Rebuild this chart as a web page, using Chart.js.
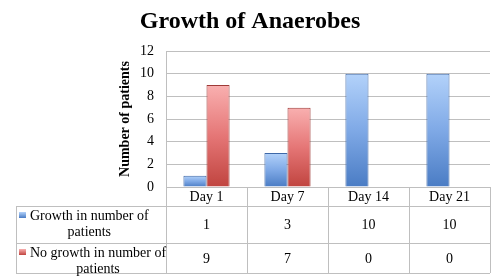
<!DOCTYPE html>
<html>
<head>
<meta charset="utf-8">
<script src="https://cdn.jsdelivr.net/npm/chart.js@4"></script>
<style>
  html, body { margin: 0; padding: 0; background: #fff; }
  #wrap { width: 500px; height: 280px; }
</style>
</head>
<body>
<div id="wrap"><canvas id="chart"></canvas></div>
<script>
const categories = ['Day 1', 'Day 7', 'Day 14', 'Day 21'];
const growth = [1, 3, 10, 10];
const noGrowth = [9, 7, 0, 0];
const seriesNames = ['Growth in number of patients', 'No growth in number of patients'];
const yTicks = [0, 2, 4, 6, 8, 10, 12];

const serif = '"Liberation Serif", "DejaVu Serif", serif';
const gridGrey = '#bfbfbf';

const blue = { top: '#b3d2fa', mid: '#7fa9e6', bottom: '#4a7cc4', edge: '#3e68a8' };
const red = { top: '#f9b0b0', mid: '#e57676', bottom: '#c0443f', edge: '#9e3a37' };

// gradient for each bar, light on top, darker at the base
function barFill(pal) {
  return (ctx) => {
    const chart = ctx.chart;
    const area = chart.chartArea;
    if (!area || ctx.raw == null) return pal.mid;
    const y = chart.scales.y;
    const top = y.getPixelForValue(ctx.raw);
    const base = y.getPixelForValue(0);
    if (base - top < 1) return pal.mid;
    const g = chart.ctx.createLinearGradient(0, top, 0, base);
    g.addColorStop(0, pal.top);
    g.addColorStop(0.5, pal.mid);
    g.addColorStop(1, pal.bottom);
    return g;
  };
}

// title centred on the whole canvas, not on the plot
const pageTitle = {
  id: 'pageTitle',
  afterDraw(chart) {
    const c = chart.ctx;
    c.save();
    c.fillStyle = '#000';
    c.font = 'bold 24px ' + serif;
    c.textAlign = 'center';
    c.textBaseline = 'middle';
    c.fillText('Growth of Anaerobes', chart.width / 2, 22);
    c.restore();
  }
};

// data table under the plot
const dataTable = {
  id: 'dataTable',
  afterDraw(chart) {
    const c = chart.ctx;
    const a = chart.chartArea;
    const x = chart.scales.x;
    const half = (x.getPixelForValue(1) - x.getPixelForValue(0)) / 2;
    const row1 = a.bottom + 19, row2 = a.bottom + 56, end = a.bottom + 86;
    const leftEdge = 16;

    c.save();
    c.strokeStyle = gridGrey;
    c.lineWidth = 1;
    c.beginPath();
    [row1, row2, end].forEach(yy => {
      c.moveTo(leftEdge, yy + 0.5);
      c.lineTo(a.right, yy + 0.5);
    });
    c.moveTo(leftEdge + 0.5, row1);
    c.lineTo(leftEdge + 0.5, end);
    c.moveTo(a.left + 0.5, a.top);
    c.lineTo(a.left + 0.5, end);
    for (let i = 0; i < categories.length; i++) {
      const xr = Math.round(x.getPixelForValue(i) + half) + 0.5;
      c.moveTo(xr, a.bottom);
      c.lineTo(xr, end);
    }
    c.stroke();

    const rows = [
      { vals: growth, pal: blue, y0: row1, y1: row2 },
      { vals: noGrowth, pal: red, y0: row2, y1: end }
    ];
    c.font = '14px ' + serif;
    c.textBaseline = 'middle';
    rows.forEach((r, k) => {
      const mid = (r.y0 + r.y1) / 2 + 1;
      c.fillStyle = '#000';
      c.textAlign = 'center';
      r.vals.forEach((v, i) => c.fillText(String(v), x.getPixelForValue(i), mid));
      // legend key
      const g = c.createLinearGradient(0, r.y0 + 6, 0, r.y0 + 12);
      g.addColorStop(0, r.pal.top);
      g.addColorStop(1, r.pal.bottom);
      c.fillStyle = g;
      c.fillRect(19, r.y0 + 6, 7, 6);
      c.fillStyle = '#000';
      // label on two lines, second line centred under the first
      const words = seriesNames[k].split(' ');
      const last = words.pop();
      const first = words.join(' ');
      const w = c.measureText(first).width;
      c.textAlign = 'left';
      c.fillText(first, 30, r.y0 + 10);
      c.textAlign = 'center';
      c.fillText(last, 30 + w / 2, r.y0 + 26);
    });
    c.restore();
  }
};

new Chart(document.getElementById('chart'), {
  type: 'bar',
  data: {
    labels: categories,
    datasets: [
      {
        label: seriesNames[0],
        data: growth,
        backgroundColor: barFill(blue),
        borderColor: blue.edge,
        borderWidth: 1,
        barPercentage: 1,
        categoryPercentage: 0.57
      },
      {
        label: seriesNames[1],
        data: noGrowth,
        backgroundColor: barFill(red),
        borderColor: red.edge,
        borderWidth: 1,
        barPercentage: 1,
        categoryPercentage: 0.57
      }
    ]
  },
  options: {
    responsive: true,
    maintainAspectRatio: false,
    animation: false,
    layout: { padding: { left: 117, right: 10, top: 51, bottom: 0 } },
    plugins: {
      legend: { display: false },
      tooltip: { enabled: false },
      title: { display: false }
    },
    scales: {
      x: {
        grid: { display: false, drawTicks: false },
        border: { display: true, color: gridGrey },
        ticks: {
          color: '#000',
          font: { family: serif, size: 14 },
          padding: 2
        },
        afterFit(s) { s.height = 93; }
      },
      y: {
        min: 0,
        max: 12,
        afterBuildTicks(s) { s.ticks = yTicks.map(v => ({ value: v })); },
        grid: { color: gridGrey, drawTicks: false },
        border: { display: false },
        ticks: {
          color: '#000',
          font: { family: serif, size: 14 },
          padding: 12
        },
        title: {
          display: true,
          text: 'Number of patients',
          color: '#000',
          font: { family: serif, size: 14, weight: 'bold' },
          padding: 0
        },
        afterFit(s) { s.width = 49; }
      }
    }
  },
  plugins: [pageTitle, dataTable]
});
</script>
</body>
</html>
